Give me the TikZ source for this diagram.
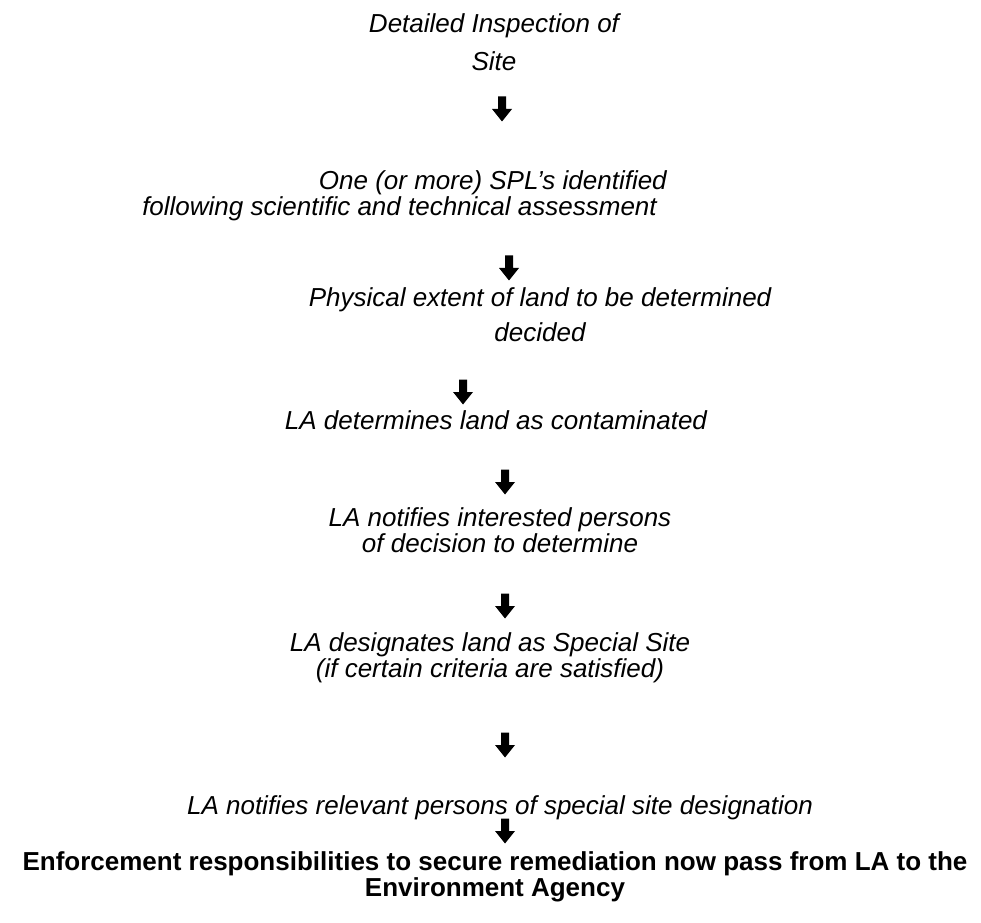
\documentclass[tikz,border=0pt]{standalone}
\usepackage{fontspec}
\setmainfont{Liberation Sans}

\begin{document}
\begin{tikzpicture}[x=0.75pt,y=-0.75pt,
  stage/.style={font=\fontsize{19.5}{19.5}\selectfont\itshape,inner sep=0pt},
  final/.style={font=\fontsize{19.5}{19.5}\selectfont\bfseries,inner sep=0pt,align=center},
  downarr/.pic={\fill (-4,-12.5) -- (4,-12.5) -- (4,0) -- (10,0) -- (0,12.5) -- (-10,0) -- (-4,0) -- cycle;}]
\useasboundingbox (0,0) rectangle (981,923);

\node[stage,align=center] (inspect) at (494,42) {Detailed Inspection of\\[9pt]Site};
\pic (a1) at (502,109) {downarr};
\node[stage,align=right,anchor=east] (spl) at (667,196) {One (or more) SPL's identified\\following scientific and technical assessment\hspace*{7.5pt}};
\pic (a2) at (509,268) {downarr};
\node[stage,align=center] (extent) at (540,315) {Physical extent of land to be determined\\[6.5pt]decided};
\pic (a3) at (463,392) {downarr};
\node[stage] (determine) at (496,420) {LA determines land as contaminated};
\pic (a4) at (505,482) {downarr};
\node[stage,align=center] (notify) at (500,530) {LA notifies interested persons\\of decision to determine};
\pic (a5) at (505,606) {downarr};
\node[stage,align=center] (special) at (490,658) {LA designates land as Special Site\\(if certain criteria are satisfied)};
\pic (a6) at (505,745) {downarr};
\node[stage] (relevant) at (500,808) {LA notifies relevant persons of special site designation};
\pic (a7) at (505,831) {downarr};
\node[final] (agency) at (495,877) {Enforcement responsibilities to secure remediation now pass from LA to the\\Environment Agency};
\end{tikzpicture}
\end{document}
